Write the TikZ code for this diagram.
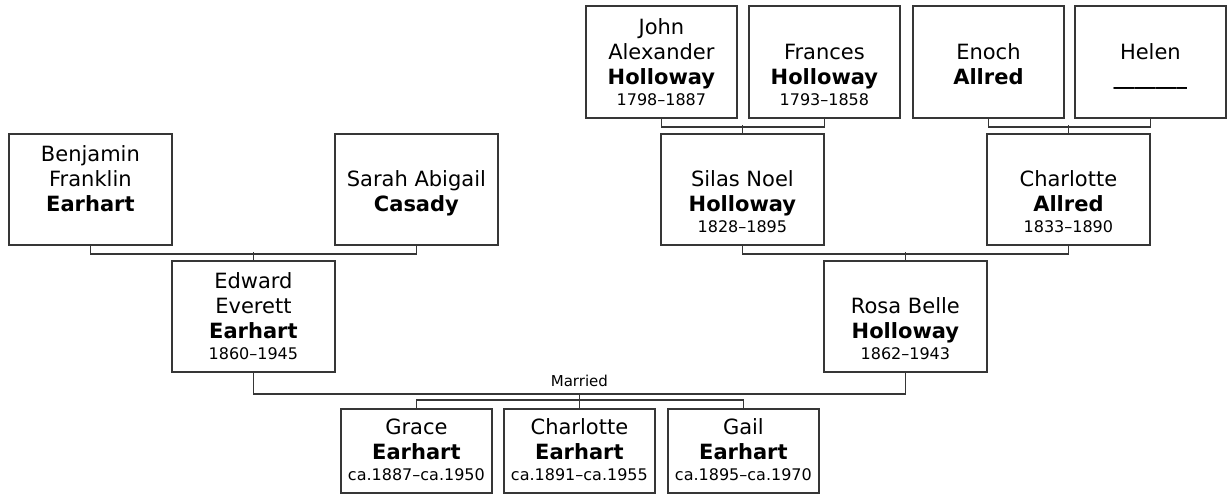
\documentclass[tikz,border=0pt]{standalone}
\usepackage{fontspec}
\setmainfont{DejaVu Sans}
\definecolor{linegray}{HTML}{363636}
\newcommand\namefont{\fontsize{21}{25}\selectfont}
\newcommand\datefont{\fontsize{16}{25}\selectfont}
\newcommand\card[3]{\parbox[c][#2][b]{#1}{\namefont\centering #3\par\vspace*{12pt}}}
\newcommand\person[3]{#1\\\textbf{#2}\\[-4pt]{\datefont\mbox{}#3}}
\newcommand\bigcard[3]{\card{163pt}{111pt}{\person{#1}{#2}{#3}}}
\newcommand\topcard[3]{\card{151pt}{112pt}{\person{#1}{#2}{#3}}}
\newcommand\kidcard[3]{\card{151pt}{84pt}{\person{#1}{#2}{#3}}}

\begin{document}
\begin{tikzpicture}[x=1pt,y=-1pt,
  box/.style={draw=linegray,line width=1.8pt,fill=white,inner sep=0pt,anchor=north west},
  link/.style={draw=linegray,line width=1.8pt}]
  \useasboundingbox (0,0) rectangle (1227,493);
  % great-grandparents
  \node[box] (JA) at (585,5) {\topcard{John\\Alexander}{Holloway}{1798--1887}};
  \node[box] (FH) at (748,5) {\topcard{Frances}{Holloway}{1793--1858}};
  \node[box] (EA) at (912,5) {\topcard{Enoch}{Allred}{}};
  \node[box] (HL) at (1074,5) {\topcard{Helen}{\_\_\_\_\_\_\_}{}};
  % grandparents
  \node[box] (BF) at (8,133) {\bigcard{Benjamin\\Franklin}{Earhart}{}};
  \node[box] (SA) at (334,133) {\bigcard{Sarah Abigail}{Casady}{}};
  \node[box] (SN) at (660,133) {\bigcard{Silas Noel}{Holloway}{1828--1895}};
  \node[box] (CA) at (986,133) {\bigcard{Charlotte}{Allred}{1833--1890}};
  % parents
  \node[box] (EE) at (171,260) {\bigcard{Edward\\Everett}{Earhart}{1860--1945}};
  \node[box] (RB) at (823,260) {\bigcard{Rosa Belle}{Holloway}{1862--1943}};
  % children
  \node[box] (GE) at (340,408) {\kidcard{Grace}{Earhart}{ca.1887--ca.1950}};
  \node[box] (CE) at (503,408) {\kidcard{Charlotte}{Earhart}{ca.1891--ca.1955}};
  \node[box] (GL) at (667,408) {\kidcard{Gail}{Earhart}{ca.1895--ca.1970}};

  \draw[link] (JA.south) -- ++(0,8) -| (FH.south);
  \draw[link] (SN.north) -- ++(0,-8);
  \draw[link] (EA.south) -- ++(0,8) -| (HL.south);
  \draw[link] (CA.north) -- ++(0,-8);
  \draw[link] (SN.south) -- ++(0,8) -| (CA.south);
  \draw[link] (RB.north) -- ++(0,-8);
  \draw[link] (BF.south) -- ++(0,8) -| (SA.south);
  \draw[link] (EE.north) -- ++(0,-8);
  \draw[link] (EE.south) -- ++(0,21) -| (RB.south);
  \draw[link] (GE.north) -- ++(0,-8) -| (GL.north);
  \draw[link] (CE.north) -- ++(0,-15)
    node[anchor=south,inner sep=0pt,yshift=5pt,font=\fontsize{15}{18}\selectfont] (wed) {Married};
\end{tikzpicture}
\end{document}
